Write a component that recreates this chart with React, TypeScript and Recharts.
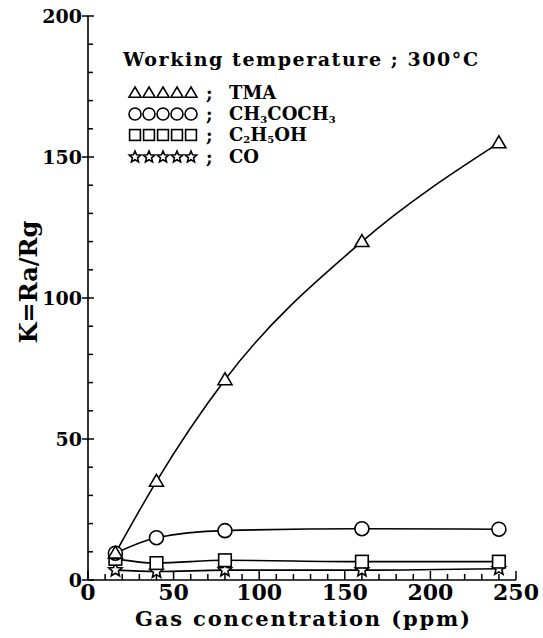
import React from 'react';
import { LineChart, Line, XAxis, YAxis } from 'recharts';

// gas concentration (ppm) and sensitivity K = Ra/Rg at 300°C
const concentration = [16, 40, 80, 160, 240];
const tma = [9.5, 35, 71, 120, 155];
const acetone = [9.5, 15, 17.5, 18.2, 18];
const ethanol = [7.5, 6, 7, 6.5, 6.5];
const co = [3.5, 3, 3.5, 3.5, 4];

const xTicks = [0, 10, 20, 30, 40, 50, 60, 70, 80, 90, 100, 110, 120, 130, 140, 150, 160, 170, 180, 190, 200, 210, 220, 230, 240, 250];
const yTicks = [0, 10, 20, 30, 40, 50, 60, 70, 80, 90, 100, 110, 120, 130, 140, 150, 160, 170, 180, 190, 200];

const data = concentration.map((c, i) => ({
    ppm: c,
    tma: tma[i],
    acetone: acetone[i],
    ethanol: ethanol[i],
    co: co[i],
}));

const W = 543;
const H = 638;
const FONT = '"DejaVu Serif", serif';

type Kind = 'tri' | 'circle' | 'square' | 'star';

const Marker = ({ kind, cx, cy, s = 7 }: { kind: Kind; cx: number; cy: number; s?: number }) => {
    const common = { fill: '#fff', stroke: '#000', strokeWidth: 1.6 };
    if (kind === 'tri') {
        return <path d={`M${cx},${cy - s} L${cx + s},${cy + s * 0.7} L${cx - s},${cy + s * 0.7} Z`} {...common} />;
    }
    if (kind === 'circle') return <circle cx={cx} cy={cy} r={s} {...common} />;
    if (kind === 'square') return <rect x={cx - s * 0.9} y={cy - s * 0.9} width={s * 1.8} height={s * 1.8} {...common} />;
    const pts: string[] = [];
    for (let i = 0; i < 10; i++) {
        const r = i % 2 === 0 ? s : s * 0.45;
        const a = -Math.PI / 2 + (i * Math.PI) / 5;
        pts.push(`${cx + r * Math.cos(a)},${cy + r * Math.sin(a)}`);
    }
    return <polygon points={pts.join(' ')} {...common} />;
};

const dotFor = (kind: Kind) => (p: any) => (
    <Marker key={`${kind}-${p.index}`} kind={kind} cx={p.cx} cy={p.cy} />
);

const XTick = ({ x, y, payload }: any) => {
    const v = payload.value;
    const major = v % 50 === 0;
    return (
        <g>
            <line x1={x} x2={x} y1={y} y2={y - (major ? 9 : 6)} stroke="#000" strokeWidth={1.5} />
            {major && (
                <text x={x} y={y + 20} textAnchor="middle" fontFamily={FONT} fontWeight="bold" fontSize={22} fill="#000">
                    {v}
                </text>
            )}
        </g>
    );
};

const YTick = ({ x, y, payload }: any) => {
    const v = payload.value;
    const major = v % 50 === 0;
    return (
        <g>
            <line x1={major ? x - 6 : x} x2={x + (major ? 6 : 5)} y1={y} y2={y} stroke="#000" strokeWidth={1.5} />
            {major && (
                <text x={x - 6} y={y + 7} textAnchor="end" fontFamily={FONT} fontWeight="bold" fontSize={19} fill="#000">
                    {v}
                </text>
            )}
        </g>
    );
};

const SUB = 10;

const legendRows: { kind: Kind; y: number; label: React.ReactNode }[] = [
    { kind: 'tri', y: 93, label: 'TMA' },
    {
        kind: 'circle', y: 114, label: (
            <>CH<tspan fontSize={SUB} dy={3}>3</tspan><tspan dy={-3}>COCH</tspan><tspan fontSize={SUB} dy={3}>3</tspan></>
        ),
    },
    {
        kind: 'square', y: 135, label: (
            <>C<tspan fontSize={SUB} dy={2}>2</tspan><tspan dy={-2}>H</tspan><tspan fontSize={SUB} dy={2}>5</tspan><tspan dy={-2}>OH</tspan></>
        ),
    },
    { kind: 'star', y: 157, label: 'CO' },
];

const Overlay = () => (
    <svg width={W} height={H} style={{ position: 'absolute', left: 0, top: 0, pointerEvents: 'none' }}>
        <text x={123} y={66} fontFamily={FONT} fontWeight="bold" fontSize={19} fill="#000" textLength={355} lengthAdjust="spacing">
            Working temperature ; 300°C
        </text>
        {legendRows.map((r) => (
            <g key={r.kind}>
                {[135, 149, 163, 177, 191].map((cx) => (
                    <Marker key={cx} kind={r.kind} cx={cx} cy={r.y} s={6} />
                ))}
                <text x={206} y={r.y + 7} fontFamily={FONT} fontWeight="bold" fontSize={18} fill="#000">;</text>
                <text x={229} y={r.y + 6} fontFamily={FONT} fontWeight="bold" fontSize={18} fill="#000">{r.label}</text>
            </g>
        ))}
        <text x={135} y={626} fontFamily={FONT} fontWeight="bold" fontSize={21} fill="#000" textLength={335} lengthAdjust="spacing">
            Gas concentration (ppm)
        </text>
        <text
            x={28}
            y={282}
            transform="rotate(-90 28 282)"
            textAnchor="middle"
            dominantBaseline="central"
            fontFamily={FONT}
            fontWeight="bold"
            fontSize={24}
            fill="#000"
        >
            K=Ra/Rg
        </text>
    </svg>
);

export default function App() {
    return (
        <div style={{ position: 'absolute', left: 0, top: 0, width: W, height: H, background: '#fff' }}>
            <LineChart width={W} height={H} data={data} margin={{ top: 16, right: 27, left: 0, bottom: 0 }}>
                <XAxis
                    dataKey="ppm"
                    type="number"
                    domain={[0, 250]}
                    ticks={xTicks}
                    interval={0}
                    tickSize={0}
                    tickMargin={0}
                    tick={<XTick />}
                    height={58}
                    axisLine={{ stroke: '#000', strokeWidth: 1.6 }}
                />
                <XAxis xAxisId="top" orientation="top" dataKey="ppm" type="number" domain={[0, 250]} height={0} tick={false} axisLine={{ stroke: '#000', strokeWidth: 1.6 }} />
                <YAxis
                    type="number"
                    domain={[0, 200]}
                    ticks={yTicks}
                    interval={0}
                    tickSize={0}
                    tickMargin={0}
                    tick={<YTick />}
                    width={88}
                    axisLine={{ stroke: '#000', strokeWidth: 1.6 }}
                />
                <YAxis yAxisId="right" orientation="right" domain={[0, 200]} width={0} tick={false} axisLine={{ stroke: '#000', strokeWidth: 1.6 }} />
                <Line type="monotone" dataKey="co" stroke="#000" strokeWidth={1.6} dot={dotFor('star')} isAnimationActive={false} />
                <Line type="monotone" dataKey="ethanol" stroke="#000" strokeWidth={1.6} dot={dotFor('square')} isAnimationActive={false} />
                <Line type="monotone" dataKey="acetone" stroke="#000" strokeWidth={1.6} dot={dotFor('circle')} isAnimationActive={false} />
                <Line type="monotone" dataKey="tma" stroke="#000" strokeWidth={1.6} dot={dotFor('tri')} isAnimationActive={false} />
            </LineChart>
            <Overlay />
        </div>
    );
}
